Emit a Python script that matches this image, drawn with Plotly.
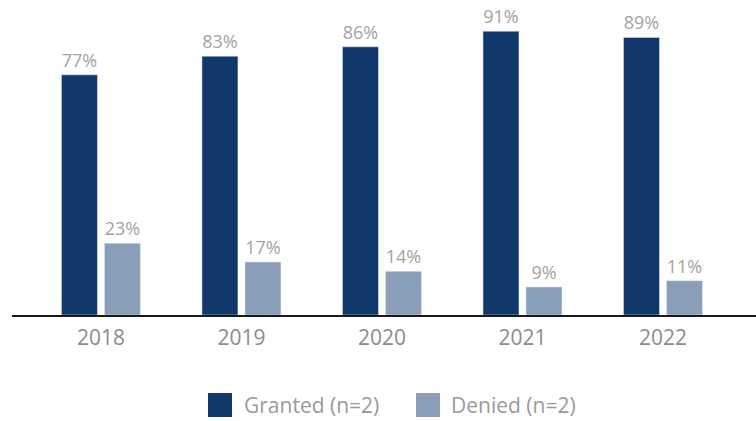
import plotly.graph_objects as go

years = ["2018", "2019", "2020", "2021", "2022"]
granted = [77, 83, 86, 91, 89]
denied = [23, 17, 14, 9, 11]

DARK = "#10386b"
LIGHT = "#8a9eb8"
GREY = "#9a9a9a"
FONT = "Open Sans"

W, H = 756, 421
L, R, T, B = 12, 0, 10, 106


def px(x, y):
    # pixel -> paper coords
    return (x - L) / (W - L - R), (H - B - y) / (H - T - B)


fig = go.Figure()
fig.add_trace(go.Bar(x=years, y=granted, name="Granted (n=2)", marker_color=DARK,
                     texttemplate="%{y}%", textposition="outside",
                     textfont=dict(color="#a3a3a3", size=18, family=FONT),
                     cliponaxis=False, showlegend=False))
fig.add_trace(go.Bar(x=years, y=denied, name="Denied (n=2)", marker_color=LIGHT,
                     texttemplate="%{y}%", textposition="outside",
                     textfont=dict(color="#a3a3a3", size=18, family=FONT),
                     cliponaxis=False, showlegend=False))

# legend drawn by hand (big square swatches)
shapes = []
annotations = []
for (x0, x1, tx, col, label) in [(208, 232, 242, DARK, "Granted (n=2)"),
                                 (416, 440, 449, LIGHT, "Denied (n=2)")]:
    a0, b0 = px(x0, 393)
    a1, b1 = px(x1, 417)
    shapes.append(dict(type="rect", xref="paper", yref="paper", x0=a0, x1=a1,
                       y0=b1, y1=b0, fillcolor=col, line_width=0))
    ax, ay = px(tx, 405)
    annotations.append(dict(xref="paper", yref="paper", x=ax, y=ay, text=label,
                            showarrow=False, xanchor="left", yanchor="middle",
                            font=dict(color=GREY, size=21, family=FONT)))

fig.update_layout(
    width=W, height=H,
    margin=dict(l=L, r=R, t=T, b=B),
    plot_bgcolor="white", paper_bgcolor="white",
    barmode="group", bargap=0.388, bargroupgap=0.163,
    font=dict(family=FONT, color=GREY),
    shapes=shapes, annotations=annotations,
    xaxis=dict(type="category", range=[-0.633, 4.662], showline=True,
               linecolor="#1a1a1a", linewidth=1.5, showgrid=False, ticks="",
               ticklabelstandoff=3,
               tickfont=dict(size=21, color="#8c8c8c", family=FONT)),
    yaxis=dict(range=[0, 97.8], visible=False, showgrid=False, zeroline=False),
)

# drop the default 8px body margin so the figure sits at the window corner
fig.write_html("out.html", config={"displayModeBar": False},
               post_script="document.body.style.margin='0';")
